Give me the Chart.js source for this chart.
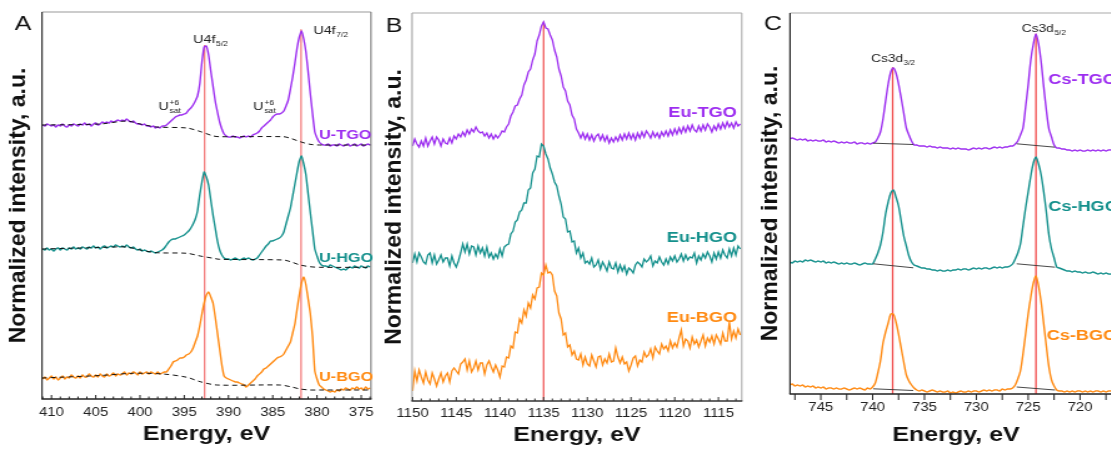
<!DOCTYPE html>
<html><head><meta charset="utf-8">
<script src="https://cdn.jsdelivr.net/npm/chart.js"></script>
<style>
html,body{margin:0;padding:0;background:#fff;overflow:hidden;width:1111px;height:450px;position:relative;}
.panel{position:absolute;top:0;height:450px;transform-origin:0 0;transform:scaleX(1.25);}
.panel canvas{display:block;}
</style></head><body>
<div class="panel" style="left:0px;width:302px"><canvas id="ca"></canvas></div>
<div class="panel" style="left:372px;width:300px"><canvas id="cb"></canvas></div>
<div class="panel" style="left:752px;width:300px"><canvas id="cc"></canvas></div>
<script>
// ---------------- DATA ----------------
// Panel A: U 4f, energy grid 411.0 -> 374.0 eV, step 0.25 (one row per eV)
const A_E0 = 411.0, A_STEP = 0.25;
const A_TGO = [
274,273,275,274, 273,274,272,274, 273,275,273,272, 274,273,275,274, 273,275,274,276,
274,275,273,275, 276,274,275,277, 276,277,276,278, 277,278,279,278, 279,278,280,278,
277,278,276,275, 275,274,275,273, 273,272,273,271, 272,271,273,273, 274,276,278,280,
282,283,284,284, 285,286,289,291, 294,298,303,315, 337,352,353,344, 328,313,298,287,
277,270,265,263, 262,262,263,262, 262,261,262,263, 262,263,262,264, 265,266,268,271,
273,275,277,279, 282,284,285,285, 286,288,293,299, 310,322,336,351, 362,368,360,347,
327,305,285,267, 261,257,255,254, 254,255,253,254, 254,253,255,254, 253,254,255,253,
254,255,253,254, 255,253,254,255, 254];
const A_HGO = [
150,149,151,149, 150,148,150,151, 149,151,150,149, 151,150,152,150, 151,150,152,151,
150,152,151,153, 151,152,150,152, 153,151,152,153, 152,154,153,152, 153,152,154,152,
151,152,150,149, 150,148,149,148, 147,148,147,146, 147,148,149,151, 154,157,159,160,
160,161,162,163, 164,166,168,171, 175,180,188,204, 217,227,222,214, 199,184,171,158,
149,144,141,140, 140,139,140,141, 140,139,140,141, 140,141,140,139, 140,141,144,147,
150,153,155,158, 158,159,160,161, 163,167,175,183, 191,203,215,227, 238,243,235,224,
205,186,168,150, 143,137,134,133, 133,132,134,133, 132,131,130,129, 130,129,131,132,
131,133,132,131, 133,132,131,133, 132];
const A_BGO = [
20,22,19,21, 23,20,22,19, 21,23,20,22, 21,24,22,21, 23,21,24,22,
22,25,23,22, 24,22,25,23, 22,25,23,24, 26,23,25,24, 25,27,24,26,
25,27,26,24, 27,25,26,27, 25,27,26,25, 27,25,26,27, 27,30,33,37,
38,39,41,41, 42,44,45,47, 51,57,63,73, 85,96,104,107, 102,96,82,66,
50,34,23,21, 20,19,18,17, 17,16,15,14, 12,14,16,18, 20,23,25,27,
30,31,33,35, 37,39,41,42, 43,45,49,53, 57,66,75,90, 104,116,122,114,
100,85,62,28, 20,14,12,10, 9,8,7,8, 7,9,8,10, 9,11,10,9,
11,10,12,10, 11,9,12,10, 11];
// Shirley-type backgrounds (dashed), energy / intensity pairs
const A_BG_E_TGO = [411.07,404.5,401.5,400,398.1,394.7,393.2,391.7,391,383.8,383,381.9,380.8,379.7,373.9];
const A_BG_V_TGO = [274,275,278,275,272,271,267.5,263,262.3,262.3,260.7,257.3,254.7,254,254];
const A_BG_E_HGO = [411.07,404.5,401.5,400,398.1,394.7,393.2,391.7,391,383.8,383,381.9,380.8,379.7,373.9];
const A_BG_V_HGO = [150,151.5,152,149,146.3,145.7,143,140.7,139.7,139,137.3,134,132.3,131.7,131.7];
const A_BG_E_BGO = [411.07,404.5,400.8,397.4,394.7,393.2,391.3,384.2,383,381.9,380.8,379.7,373.9];
const A_BG_V_BGO = [21,23.5,25.7,25,21.7,17.3,14,14,12.3,10,9,9,9];
const A_REF_E = [392.7, 381.8], A_REF_TOP = [354, 369.7];
const A_TICKS = [410,405,400,395,390,385,380,375];

// Panel B: Eu 3d, energy grid 1150.0 -> 1112.5 eV, step 0.25
const B_E0 = 1150.0, B_STEP = 0.25;
const B_TGO = [
255,262,257,254, 260,255,263,255, 260,264,257,264, 261,255,262,258, 257,263,258,265,
262,267,264,269, 265,271,267,272, 269,274,270,268, 269,265,268,263, 267,262,266,263,
266,270,269,274, 277,285,289,295, 296,302,306,316, 321,329,332,341, 347,360,366,375,
379,373,372,366, 361,351,344,332, 325,314,310,300, 296,286,282,272, 268,263,268,262,
267,261,266,260, 265,267,261,266, 260,265,258,263, 259,264,260,266, 261,267,262,268,
262,267,261,268, 263,269,264,270, 267,263,269,264, 268,263,269,265, 270,265,271,266,
272,267,273,268, 274,269,275,270, 276,271,269,275, 270,276,271,277, 274,269,275,271,
277,272,278,273, 279,274,278,273, 279,275,277];
const B_HGO = [
138,147,139,148, 144,139,137,146, 148,138,146,137, 141,146,139,143, 143,135,145,138,
134,140,148,157, 149,157,147,155, 154,146,155,148, 153,145,154,144, 148,142,147,143,
152,145,154,156, 157,167,170,179, 181,189,191,198, 198,211,213,228, 232,245,244,257,
255,247,242,233, 227,219,215,205, 197,184,182,169, 170,159,160,148, 153,143,148,138,
140,137,143,134, 136,141,132,139, 135,130,139,133, 132,138,129,136, 130,135,127,133,
131,128,136,139, 137,134,142,139, 141,145,135,140, 138,144,139,136, 142,137,144,140,
145,139,142,147, 140,146,141,144, 143,148,138,145, 141,147,143,149, 145,139,148,142,
149,143,151,146, 143,152,145,153, 146,155,152];
const B_BGO = [
10,30,20,31, 24,18,29,21, 17,28,22,15, 22,28,19,25, 28,19,30,33,
30,27,37,39, 42,31,40,29, 33,40,31,38, 38,27,36,40, 34,29,36,31,
24,35,34,44, 43,55,53,69, 68,82,78,91, 85,98,93,106, 102,113,114,128,
126,136,128,129, 126,110,105,88, 82,66,68,54, 56,46,50,42, 41,47,36,44,
37,35,46,40, 34,44,45,36, 42,38,47,39, 40,53,44,38, 44,37,39,30,
36,43,45,35, 41,39,49,44, 46,52,43,54, 50,47,57,52, 55,50,60,53,
58,54,63,71, 55,62,60,53, 64,57,61,54, 60,66,55,63, 59,65,57,66,
62,57,68,60, 60,79,62,70, 63,72,66];
const B_REF_E = [1135.0], B_REF_TOP = [379.3];
const B_TICKS = [1150,1145,1140,1135,1130,1125,1120,1115];

// Panel C: Cs 3d, energy grid 748.0 -> 716.0 eV, step 0.25
const C_E0 = 748.0, C_STEP = 0.25;
const C_TGO = [
255,256,255,254, 255,254,255,253, 254,253,254,253, 253,254,252,253, 252,253,252,251,
252,251,252,251, 251,252,250,251, 251,250,251,250, 251,252,256,262, 275,293,310,322,
326,321,310,296, 281,266,259,253, 249,249,248,248, 248,247,248,247, 247,246,247,246,
246,246,245,246, 245,246,245,245, 245,244,245,246, 245,246,245,246, 246,245,246,247,
246,247,246,247, 247,248,248,250, 253,259,266,287, 309,334,350,360, 350,332,307,284,
265,257,249,246, 246,245,245,244, 244,243,244,243, 244,243,243,244, 243,244,243,244,
243,244,243,244, 244,243,244,243, 244];
const C_HGO = [
132,131,133,132, 133,132,134,133, 134,133,132,133, 132,133,131,132, 131,132,131,130,
131,130,131,130, 130,131,130,129, 130,131,130,130, 130,135,141,149, 162,180,192,201,
204,197,188,173, 158,148,138,132, 129,128,127,126, 126,125,125,124, 124,123,124,123,
123,124,123,124, 124,125,124,125, 125,124,125,126, 125,126,125,126, 126,125,126,127,
126,127,126,127, 127,128,130,135, 141,150,168,186, 202,218,231,237, 230,219,202,182,
159,145,136,127, 126,125,124,123, 123,122,123,122, 122,121,122,121, 121,122,121,120,
121,120,121,120, 120,121,120,121, 120];
const C_BGO = [
9,10,8,9, 8,9,7,8, 7,8,6,7, 6,7,5,6, 6,5,6,5,
5,6,5,4, 5,6,5,6, 5,4,6,5, 7,11,21,33, 51,62,71,80,
80,72,60,46, 32,19,13,9, 6,4,3,4, 3,2,3,4, 3,2,3,2,
2,3,1,2, 1,2,3,2, 2,3,2,3, 3,2,3,4, 3,4,3,4,
4,3,5,4, 5,5,6,9, 15,23,40,60, 80,97,111,118, 108,92,70,48,
27,14,8,4, 3,3,2,3, 2,3,2,3, 3,2,3,2, 3,2,3,3,
2,3,2,3, 3,2,3,2, 3];
// linear backgrounds under the peaks (null = break)
const C_BG_E = [739.94,736.08,730,726.11,722.42];
const C_BG_V_TGO = [250.8,249.5,null,250.2,246.8];
const C_BG_V_HGO = [130.2,126.2,null,130.2,126.8];
const C_BG_V_BGO = [5.2,3.5,null,7.0,4.0];
const C_REF_E = [738.07, 724.25], C_REF_TOP = [326.8, 360.2];
const C_TICKS = [745,740,735,730,725,720];

const PURPLE = '#9d2ef0', TEAL = '#14908c', ORANGE = '#ff8a12', REDL = '#f37e7e';
const A_LABELS = [
  {text:'U-TGO', e:379.77, v:264, color:PURPLE},
  {text:'U-HGO', e:379.77, v:141, color:TEAL},
  {text:'U-BGO', e:379.77, v:21.5, color:ORANGE}];
const B_LABELS = [
  {text:'Eu-TGO', e:1120.73, v:288.5, color:PURPLE},
  {text:'Eu-HGO', e:1120.92, v:163.5, color:TEAL},
  {text:'Eu-BGO', e:1120.92, v:83.5, color:ORANGE}];
const C_LABELS = [
  {text:'Cs-TGO', e:723.06, v:314.5, color:PURPLE},
  {text:'Cs-HGO', e:723.06, v:187, color:TEAL},
  {text:'Cs-BGO', e:723.22, v:58, color:ORANGE}];
const A_NOTES = [
  {main:'U4f', sub:'5/2', e:394.0, v:356},
  {main:'U4f', sub:'7/2', e:380.42, v:365},
  {main:'U', sup:'+6', sub:'sat', e:397.93, v:289},
  {main:'U', sup:'+6', sub:'sat', e:387.2, v:289}];
const C_NOTES = [
  {main:'Cs3d', sub:'3/2', e:740.16, v:332},
  {main:'Cs3d', sub:'5/2', e:725.63, v:362.5}];
const Y_TITLE = 'Normalized intensity, a.u.';
const X_TITLE = 'Energy, eV';

// ---------------- RENDERING ----------------
const SX = 1.25; // horizontal stretch of each panel (CSS transform)
const FONT = '"Liberation Sans", Arial, Helvetica, sans-serif';
Chart.defaults.font.family = FONT;

function grid(e0, step, vals){ return vals.map((v,i)=>({x: Math.round((e0 - i*step)*100)/100, y: v})); }
function pts(es, vs){ return es.map((e,i)=>({x: e, y: vs[i]})); }
function ds(data, color, w, extra){ return Object.assign({data, borderColor: color, borderWidth: w, pointRadius: 0, fill: false, tension: 0, spanGaps: false}, extra || {}); }
function refLines(es, tops, color){ return es.map((e,i)=> ds([{x:e,y:tops[i]},{x:e,y:0}], color, 1.3, {order: 20})); }

const decor = {
  id: 'decor',
  afterDraw(chart, args, o){
    const {ctx, chartArea: ca} = chart;
    const xs = chart.scales.x, ys = chart.scales.y;
    ctx.save();
    const seg = (x1,y1,x2,y2,c,w)=>{ ctx.strokeStyle=c; ctx.lineWidth=w; ctx.beginPath(); ctx.moveTo(x1,y1); ctx.lineTo(x2,y2); ctx.stroke(); };
    const f = o.frame;
    seg(ca.left, ca.top, ca.right, ca.top, f.top, 1.2);
    seg(ca.right, ca.top, ca.right, ca.bottom, f.right, 1.1);
    seg(ca.left, ca.top, ca.left, ca.bottom, f.left, 1.2);
    seg(ca.left-0.5, ca.bottom, ca.right+0.5, ca.bottom, f.bottom, 1.3);
    const lo = Math.min(xs.min, xs.max), hi = Math.max(xs.min, xs.max);
    for (let k = Math.ceil(lo / o.minorStep); k * o.minorStep <= hi + 1e-9; k++) {
      const v = k * o.minorStep;
      const px = xs.getPixelForValue(v);
      const major = Math.abs(v/5 - Math.round(v/5)) < 1e-6;
      seg(px, ca.bottom, px, ca.bottom + o.tickDir * (major ? o.tickMajor : o.tickMinor), f.bottom, 1);
    }
    ctx.textBaseline = 'middle'; ctx.textAlign = 'left';
    for (const L of o.labels) {
      ctx.font = `bold ${o.labelSize}px ${FONT}`; ctx.fillStyle = L.color;
      ctx.fillText(L.text, xs.getPixelForValue(L.e), ys.getPixelForValue(L.v));
    }
    ctx.textBaseline = 'alphabetic'; ctx.fillStyle = '#222';
    for (const A of (o.notes || [])) {
      const px = xs.getPixelForValue(A.e), py = ys.getPixelForValue(A.v);
      ctx.font = `${o.noteSize}px ${FONT}`;
      ctx.fillText(A.main, px, py);
      const w = ctx.measureText(A.main).width;
      ctx.font = `${o.noteSize*0.6}px ${FONT}`;
      if (A.sup) ctx.fillText(A.sup, px + w + 0.5, py - o.noteSize*0.42);
      if (A.sub) ctx.fillText(A.sub, px + w + 0.5, py + o.noteSize*0.3);
    }
    ctx.font = `20px ${FONT}`; ctx.fillStyle = '#111'; ctx.textAlign = 'center';
    ctx.fillText(o.letter.text, o.letter.x, o.letter.y);
    // y-axis title, drawn without the horizontal stretch
    ctx.translate(o.yTitleX, (ca.top + ca.bottom) / 2);
    ctx.scale(1 / SX, 1);
    ctx.rotate(-Math.PI / 2);
    ctx.font = `bold 23px ${FONT}`; ctx.fillStyle = '#111'; ctx.textAlign = 'center'; ctx.textBaseline = 'middle';
    ctx.fillText(Y_TITLE, 0, 0);
    ctx.restore();
  }
};

function makeChart(id, c){
  return new Chart(document.getElementById(id), {
    type: 'line',
    data: { datasets: c.datasets },
    options: {
      responsive: true, maintainAspectRatio: false, animation: false, events: [],
      layout: { padding: c.pad },
      plugins: { legend: {display:false}, tooltip: {enabled:false}, decor: c.decor },
      scales: {
        x: {
          type: 'linear', reverse: true, min: c.xmin, max: c.xmax,
          grid: {display:false, drawTicks:false}, border: {display:false},
          ticks: {font:{size:12}, color:'#222', padding: c.tickPad, maxRotation:0, autoSkip:false, callback: v => String(v)},
          title: {display:true, text:X_TITLE, color:'#111', font:{size:20, weight:'bold'}, padding:{top:0, bottom:c.xTitlePad}},
          afterBuildTicks: s => { s.ticks = c.ticks.map(v => ({value: v})); },
          afterFit: s => { s.height = c.xHeight; s.paddingLeft = 0; s.paddingRight = 0; }
        },
        y: {
          type: 'linear', min: 0, max: c.ymax,
          grid: {display:false, drawTicks:false}, border: {display:false},
          ticks: {display:false},
          title: {display:false},
          afterFit: s => { s.width = c.yWidth; s.paddingTop = 0; s.paddingBottom = 0; }
        }
      }
    },
    plugins: [decor]
  });
}

// Panel A
makeChart('ca', {
  pad: {left:0, right:5.2, top:12, bottom:0},
  xmin: 373.9, xmax: 411.07, ymax: 387, ticks: A_TICKS,
  tickPad: 6.3, xTitlePad: 4, xHeight: 51, yWidth: 33.6,
  datasets: [
    ...refLines(A_REF_E, A_REF_TOP, REDL),
    ds(grid(A_E0, A_STEP, A_TGO), PURPLE, 1.4, {order:5, tension:0.15}),
    ds(grid(A_E0, A_STEP, A_HGO), TEAL, 1.4, {order:5, tension:0.15}),
    ds(grid(A_E0, A_STEP, A_BGO), ORANGE, 1.4, {order:5, tension:0.15}),
    ds(pts(A_BG_E_TGO, A_BG_V_TGO), '#111', 1, {order:1, borderDash:[4,3], tension:0.3}),
    ds(pts(A_BG_E_HGO, A_BG_V_HGO), '#111', 1, {order:1, borderDash:[4,3], tension:0.3}),
    ds(pts(A_BG_E_BGO, A_BG_V_BGO), '#111', 1, {order:1, borderDash:[4,3], tension:0.3})
  ],
  decor: {frame:{top:'#9a9a9a', right:'#777', left:'#333', bottom:'#222'}, minorStep:1, tickMajor:4, tickMinor:2.5, tickDir:-1,
          labels: A_LABELS, labelSize: 13, notes: A_NOTES, noteSize: 11.5, letter:{text:'A', x:18.4, y:30}, yTitleX: 15.2}
});

// Panel B
makeChart('cb', {
  pad: {left:0, right:4.2, top:13, bottom:0},
  xmin: 1112.33, xmax: 1150.06, ymax: 388, ticks: B_TICKS,
  tickPad: 5.3, xTitlePad: 3, xHeight: 49, yWidth: 32,
  datasets: [
    ...refLines(B_REF_E, B_REF_TOP, '#f05a5a'),
    ds(grid(B_E0, B_STEP, B_TGO), PURPLE, 1.3, {order:5}),
    ds(grid(B_E0, B_STEP, B_HGO), TEAL, 1.3, {order:5}),
    ds(grid(B_E0, B_STEP, B_BGO), ORANGE, 1.3, {order:5})
  ],
  decor: {frame:{top:'#aaa', right:'#aaa', left:'#aaa', bottom:'#333'}, minorStep:1, tickMajor:4, tickMinor:2.5, tickDir:-1,
          labels: B_LABELS, labelSize: 14.5, notes: [], noteSize: 11, letter:{text:'B', x:17.6, y:31.5}, yTitleX: 17.6}
});

// Panel C
makeChart('cc', {
  pad: {left:0, right:4, top:13, bottom:0},
  xmin: 715.95, xmax: 747.97, ymax: 381, ticks: C_TICKS,
  tickPad: 6.3, xTitlePad: 3, xHeight: 56, yWidth: 30.4,
  datasets: [
    ...refLines(C_REF_E, C_REF_TOP, '#f04848'),
    ds(grid(C_E0, C_STEP, C_TGO), PURPLE, 1.4, {order:5, tension:0.3}),
    ds(grid(C_E0, C_STEP, C_HGO), TEAL, 1.4, {order:5, tension:0.3}),
    ds(grid(C_E0, C_STEP, C_BGO), ORANGE, 1.4, {order:5, tension:0.3}),
    ds(pts(C_BG_E, C_BG_V_TGO), '#333', 0.9, {order:1}),
    ds(pts(C_BG_E, C_BG_V_HGO), '#333', 0.9, {order:1}),
    ds(pts(C_BG_E, C_BG_V_BGO), '#333', 0.9, {order:1})
  ],
  decor: {frame:{top:'#aaa', right:'#aaa', left:'#222', bottom:'#222'}, minorStep:2.5, tickMajor:6, tickMinor:6, tickDir:1,
          labels: C_LABELS, labelSize: 14.5, notes: C_NOTES, noteSize: 11, letter:{text:'C', x:16.8, y:30}, yTitleX: 15.2}
});
</script>
</body></html>
